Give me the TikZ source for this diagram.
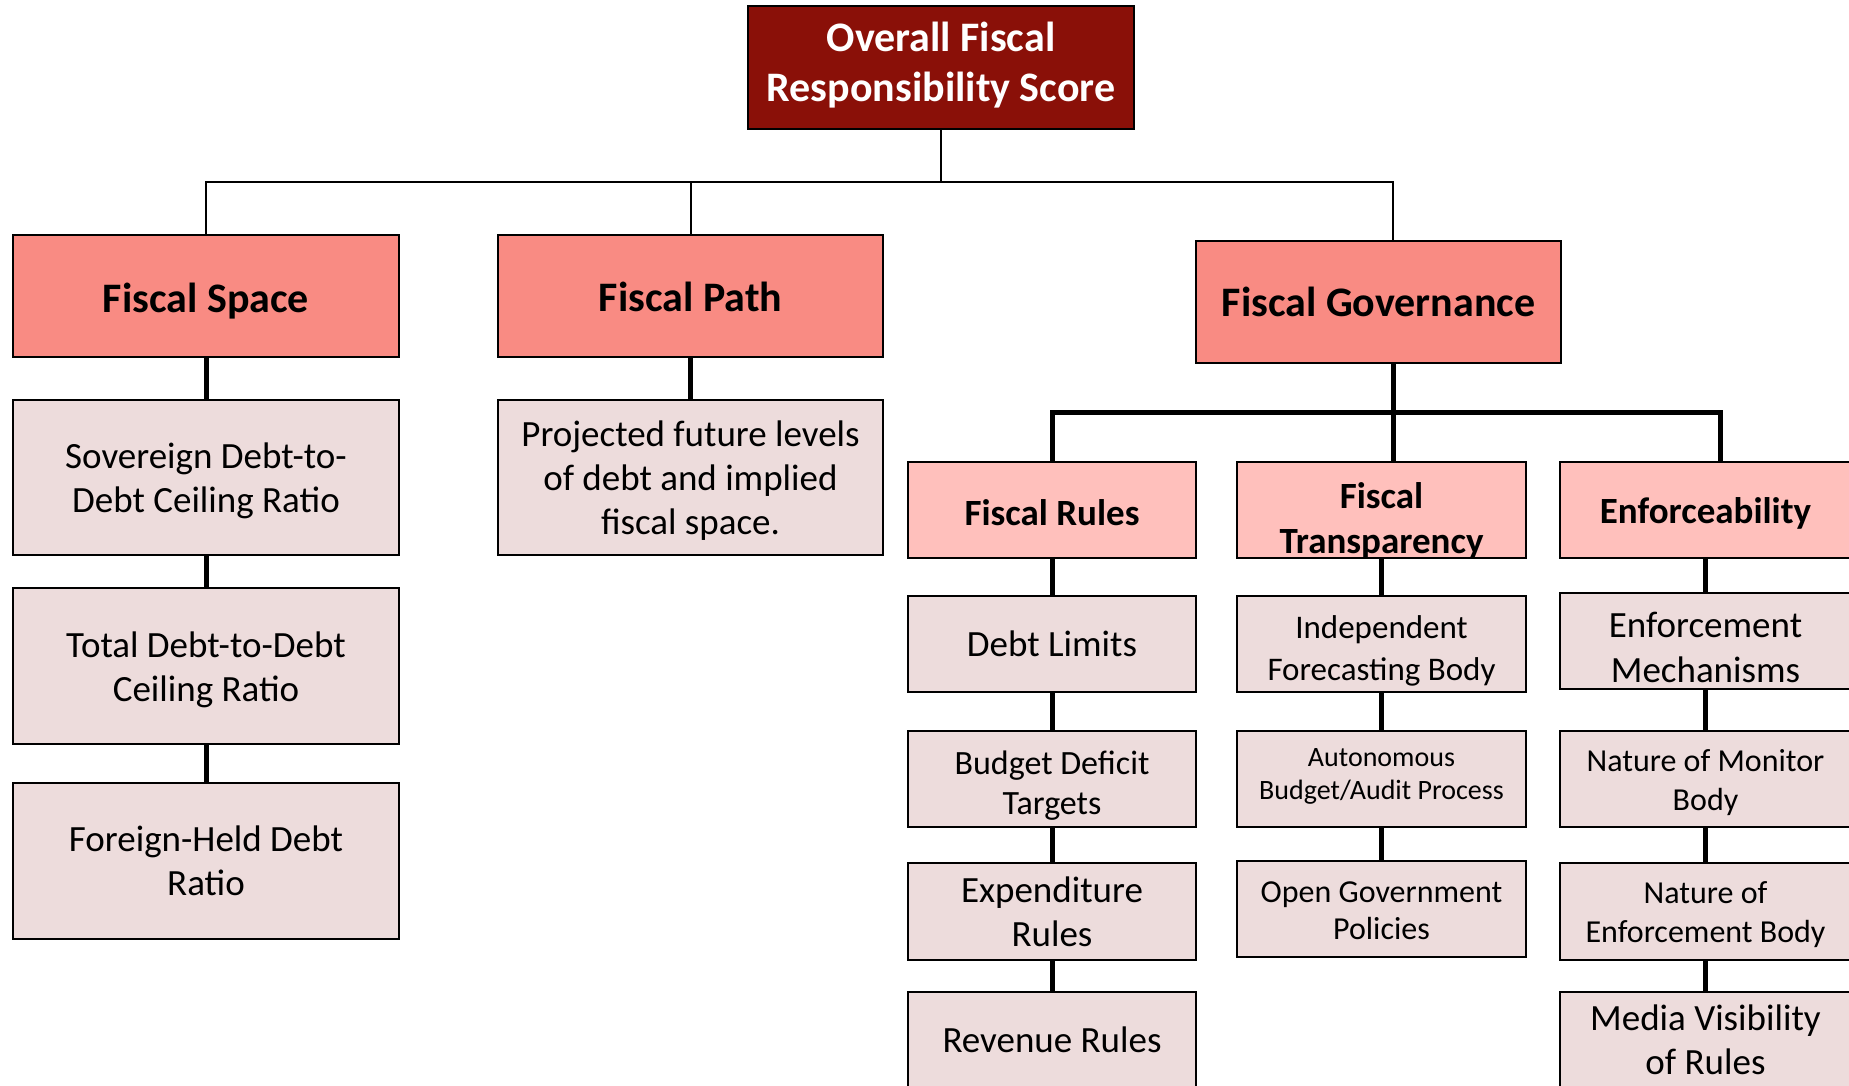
\documentclass[tikz,border=0pt]{standalone}
\usepackage{fontspec}
\setmainfont{Carlito}
\definecolor{ttlred}{HTML}{8A1008}
\definecolor{headc}{HTML}{F98B83}
\definecolor{subc}{HTML}{FFC0BC}
\definecolor{leafc}{HTML}{EDDCDC}
\tikzset{
  box/.style={draw=black, line width=2.5pt, rectangle, inner sep=0pt},
  wh/.style 2 args={minimum width=#1pt, minimum height=#2pt},
  ttl/.style={box, fill=ttlred},
  head/.style={box, fill=headc},
  sub/.style={box, fill=subc},
  leaf/.style={box, fill=leafc},
  tr/.style 2 args={font=\fontsize{#1}{#2}\selectfont},
  tb/.style 2 args={font=\bfseries\fontsize{#1}{#2}\selectfont},
  cthin/.style={line width=2pt},
  cthick/.style={line width=5pt},
}
% #1 box style, #2 name, #3 x, #4 y, #5 w, #6 h, #7 text style, #8 text dy, #9 text
\newcommand\mybx[9]{%
  \node[#1, wh={#5}{#6}] (#2) at (#3,#4) {};
  \node[align=center, inner sep=0pt, #7] (#2-t) at (#3,#4+#8) {#9};}
\begin{document}
\begin{tikzpicture}[x=1pt,y=-1pt]
\useasboundingbox (0,0) rectangle (1849,1086);
\clip (0,0) rectangle (1849,1086);
\fill[white] (0,0) rectangle (1849,1086);

% top
\mybx{ttl}{ttl}{941}{67.5}{386}{123}{tb={42}{50}, text=white}{-2.5}{Overall Fiscal\\Responsibility Score}

% level 1
\mybx{head}{fs}{206}{296}{386}{122}{tb={42}{50}}{5}{Fiscal Space}
\mybx{head}{fp}{690.5}{296}{385}{122}{tb={42}{50}}{1}{Fiscal Path}
\mybx{head}{fg}{1378.5}{302}{365}{122}{tb={42}{50}}{0}{Fiscal Governance}

% fiscal space column
\mybx{leaf}{sov}{206}{477.5}{386}{155}{tr={37}{44}}{3.5}{Sovereign Debt-to-\\Debt Ceiling Ratio}
\mybx{leaf}{tot}{206}{666}{386}{156}{tr={37}{44}}{3.5}{Total Debt-to-Debt\\Ceiling Ratio}
\mybx{leaf}{for}{206}{861}{386}{156}{tr={37}{44}}{0}{Foreign-Held Debt\\Ratio}

% fiscal path column
\mybx{leaf}{proj}{690.5}{477.5}{385}{155}{tr={37}{44}}{3.5}{Projected future levels\\of debt and implied\\fiscal space.}

% governance sub-heads
\mybx{sub}{fr}{1052}{510}{288}{96}{tb={37}{45}}{2.5}{Fiscal Rules}
\mybx{sub}{ft}{1381.5}{510}{289}{96}{tb={37}{45}}{10.5}{Fiscal\\Transparency}
\mybx{sub}{en}{1705.5}{510}{291}{96}{tb={37}{45}}{3.5}{Enforceability}

% fiscal rules column
\mybx{leaf}{dl}{1052}{644}{288}{96}{tr={37}{44}}{0}{Debt Limits}
\mybx{leaf}{bd}{1052}{779}{288}{96}{tr={34}{40}}{7}{Budget Deficit\\Targets}
\mybx{leaf}{ex}{1052}{911.5}{288}{97}{tr={37}{44}}{0}{Expenditure\\Rules}
\mybx{leaf}{rv}{1052}{1042}{288}{100}{tr={37}{44}}{-2.5}{Revenue Rules}

% transparency column
\mybx{leaf}{ifb}{1381.5}{644}{289}{96}{tr={33}{42}}{7}{Independent\\Forecasting Body}
\mybx{leaf}{aut}{1381.5}{779}{289}{96}{tr={28}{33}}{-2.5}{Autonomous\\Budget/Audit Process}
\mybx{leaf}{ogp}{1381.5}{909}{289}{96}{tr={32}{37}}{2}{Open Government\\Policies}

% enforceability column
\mybx{leaf}{em}{1705.5}{641}{291}{96}{tr={37}{45}}{6}{Enforcement\\Mechanisms}
\mybx{leaf}{nm}{1705.5}{779}{291}{96}{tr={32}{39}}{3.5}{Nature of Monitor\\Body}
\mybx{leaf}{ne}{1705.5}{911.5}{291}{97}{tr={32}{39}}{3.5}{Nature of\\Enforcement Body}
\mybx{leaf}{mv}{1705.5}{1042}{291}{100}{tr={37}{44}}{-2}{Media Visibility\\of Rules}

% top connectors
\coordinate (busL) at (206,182);
\coordinate (busR) at (1393,182);
\draw[cthin] (ttl.south) -- (ttl.south |- busL);
\draw[cthin] (fs.north) -- (busL) -- (busR) -- (busR |- fg.north);
\draw[cthin] (fp.north) -- (fp.north |- busL);

% left columns
\draw[cthick] (fs) -- (sov);
\draw[cthick] (sov) -- (tot);
\draw[cthick] (tot) -- (for);
\draw[cthick] (fp) -- (proj);

% governance bus
\coordinate (gL) at (1052,412);
\coordinate (gM) at (1393,412);
\coordinate (gR) at (1720,412);
\draw[cthick] (gM |- fg.south) -- (gM |- ft.north);
\draw[cthick] (fr.north) -- (gL) -- (gR) -- (gR |- en.north);

% governance columns
\draw[cthick] (fr) -- (dl);
\draw[cthick] (dl) -- (bd);
\draw[cthick] (bd) -- (ex);
\draw[cthick] (ex) -- (rv);
\draw[cthick] (ft) -- (ifb);
\draw[cthick] (ifb) -- (aut);
\draw[cthick] (aut) -- (ogp);
\draw[cthick] (en) -- (em);
\draw[cthick] (em) -- (nm);
\draw[cthick] (nm) -- (ne);
\draw[cthick] (ne) -- (mv);
\end{tikzpicture}
\end{document}
